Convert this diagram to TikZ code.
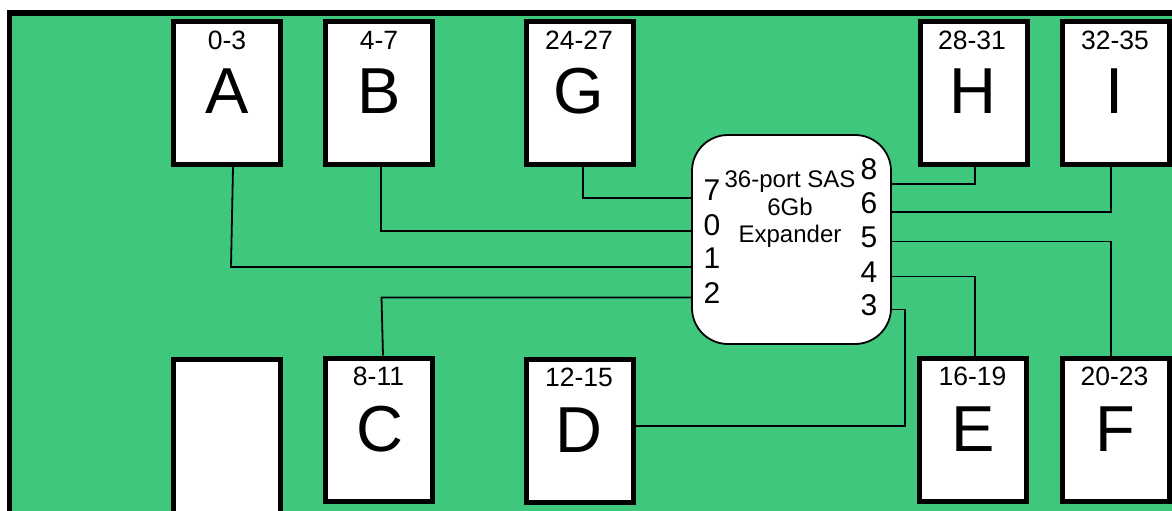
\documentclass[tikz,border=0pt]{standalone}
\usepackage{fontspec}
\setmainfont{Liberation Sans}
\definecolor{boardgreen}{RGB}{64,199,126}
\begin{document}
\begin{tikzpicture}[x=1pt,y=-1pt,
  drivebox/.style={draw=black,fill=white,line width=5pt,minimum width=107pt,minimum height=143pt,inner sep=0pt},
  rangetxt/.style={font=\fontsize{26.5}{26.5}\selectfont,anchor=base,inner sep=0pt},
  lettertxt/.style={font=\fontsize{65}{65}\selectfont,anchor=base,inner sep=0pt},
  porttxt/.style={font=\fontsize{30}{30}\selectfont,anchor=base,inner sep=0pt},
  exptxt/.style={font=\fontsize{24}{24}\selectfont,anchor=base,inner sep=0pt},
  wire/.style={draw=black,line width=1.8pt}]
\useasboundingbox (0,0) rectangle (1172,511);
\clip (0,0) rectangle (1172,511);
\fill[white] (0,0) rectangle (1172,511);
\draw[line width=5.5pt,fill=boardgreen] (9.5,13) rectangle (1190,530);
\node[drivebox] (A) at (227,93) {};
\node[drivebox] (B) at (379,93) {};
\node[drivebox] (G) at (579.5,93) {};
\node[drivebox] (H) at (973.5,93) {};
\node[drivebox] (I) at (1115.5,93) {};
\node[drivebox] (C) at (379,429.5) {};
\node[drivebox] (D) at (579.5,430.5) {};
\node[drivebox] (E) at (973,429.5) {};
\node[drivebox] (F) at (1115.5,429.5) {};
\node[drivebox,minimum height=160pt] (blank) at (227,439) {};
\node[draw=black,fill=white,line width=1.8pt,rounded corners=36pt,minimum width=199pt,minimum height=209pt,inner sep=0pt] (exp) at (791.5,239.5) {};
\node[rangetxt] (Ar) at (227,49.5) {0-3};
\node[lettertxt] (Al) at (227,113.5) {A};
\node[rangetxt] (Br) at (379,49.5) {4-7};
\node[lettertxt] (Bl) at (379.5,113.5) {B};
\node[rangetxt] (Gr) at (579,49.5) {24-27};
\node[lettertxt] (Gl) at (579,113.5) {G};
\node[rangetxt] (Hr) at (972,49.5) {28-31};
\node[lettertxt] (Hl) at (973,113.5) {H};
\node[rangetxt] (Ir) at (1115,49.5) {32-35};
\node[lettertxt] (Il) at (1115,113.5) {I};
\node[rangetxt] (Cr) at (378.5,385) {8-11};
\node[lettertxt] (Cl) at (379.5,451) {C};
\node[rangetxt] (Dr) at (579,386) {12-15};
\node[lettertxt] (Dl) at (579,452) {D};
\node[rangetxt] (Er) at (972.5,385) {16-19};
\node[lettertxt] (El) at (973,451) {E};
\node[rangetxt] (Fr) at (1114.5,385) {20-23};
\node[lettertxt] (Fl) at (1115.5,451) {F};
\node[exptxt] (e1) at (790,187) {36-port SAS};
\node[exptxt] (e2) at (790,215) {6Gb};
\node[exptxt] (e3) at (790,242) {Expander};
\node[porttxt] (p7) at (712,200) {7};
\node[porttxt] (p0) at (712,235) {0};
\node[porttxt] (p1) at (712,268) {1};
\node[porttxt] (p2) at (712,303) {2};
\node[porttxt] (p8) at (869,179) {8};
\node[porttxt] (p6) at (869,213) {6};
\node[porttxt] (p5) at (869,247) {5};
\node[porttxt] (p4) at (869,282) {4};
\node[porttxt] (p3) at (869,315) {3};
\coordinate (Abend) at (231,267);
\coordinate (Cbend) at (381.5,297.5);
\coordinate (Dbend) at (905,426);
\draw[wire] ([xshift=3.5pt]G.south) |- ([yshift=41.5pt]exp.west);
\draw[wire] ([xshift=2pt]B.south) |- ([yshift=8.5pt]exp.west);
\draw[wire] ([xshift=6pt]A.south) -- (Abend) -- (Abend -| exp.west);
\draw[wire] ([xshift=4pt]C.north) -- (Cbend) -- (Cbend -| exp.west);
\draw[wire] (D.east |- Dbend) -- (Dbend) |- ([yshift=-70pt]exp.east);
\draw[wire] ([xshift=2pt]E.north) |- ([yshift=-37pt]exp.east);
\draw[wire] ([xshift=-4.5pt,yshift=-4pt]F.north) |- ([yshift=-2pt]exp.east);
\draw[wire] ([xshift=1.5pt]H.south) |- ([yshift=55.5pt]exp.east);
\draw[wire] ([xshift=-4.5pt]I.south) |- ([yshift=27.5pt]exp.east);
\end{tikzpicture}
\end{document}
